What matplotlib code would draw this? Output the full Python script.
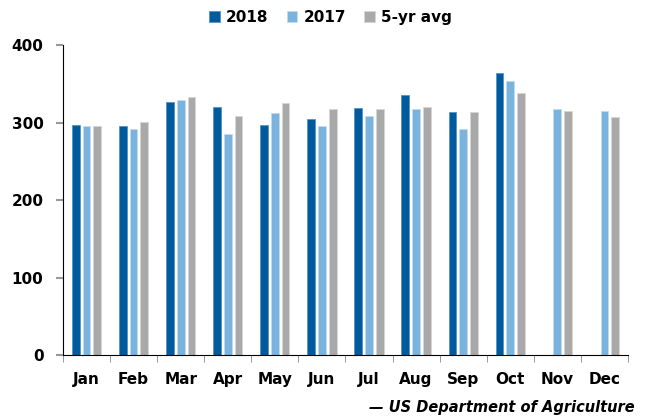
import numpy as np
import matplotlib.pyplot as plt

# Datos
meses = ['Jan', 'Feb', 'Mar', 'Apr', 'May', 'Jun', 'Jul', 'Aug', 'Sep', 'Oct', 'Nov', 'Dec']
v2018 = [297, 296, 326, 320, 297, 305, 319, 335, 314, 364, np.nan, np.nan]
v2017 = [296, 292, 329, 285, 312, 296, 308, 318, 291, 354, 317, 315]
prom5 = [296, 301, 333, 309, 325, 318, 317, 320, 314, 338, 315, 307]

plt.rcParams['font.family'] = ['DejaVu Sans']
plt.rcParams['font.weight'] = 'bold'

fig = plt.figure(figsize=(6.48, 4.19), dpi=100)
ax = fig.add_axes([0.0972, 0.1527, 0.8719, 0.7399])

x = np.arange(len(meses))
w = 0.165
paso = 0.228
series = [(v2018, '2018', '#005A9E', '#5a92c4'),
          (v2017, '2017', '#7AB3DE', '#c0dcf1'),
          (prom5, '5-yr avg', '#A9A9A9', '#d6d6d6')]
for i, (vals, nombre, color, borde) in enumerate(series):
    ax.bar(x + (i - 1) * paso, vals, width=w, color=color, edgecolor=borde,
           linewidth=0.6, label=nombre)

ax.set_xlim(-0.5, 11.5)
ax.set_ylim(0, 400)
ax.set_yticks([0, 100, 200, 300, 400])
ax.set_xticks(x)
ax.set_xticklabels(meses)
ax.set_xticks(np.arange(-0.5, 12, 1), minor=True)
ax.tick_params(axis='x', which='major', length=0, pad=12, labelsize=11)
ax.tick_params(axis='x', which='minor', length=5, color='#888888', direction='out')
ax.tick_params(axis='y', length=5, color='#999999', width=1.5, pad=9, labelsize=11)

for s in ['top', 'right']:
    ax.spines[s].set_visible(False)
ax.spines['left'].set_color('black')
ax.spines['bottom'].set_color('black')

leg = fig.legend(loc='upper center', bbox_to_anchor=(0.51, 1.01), ncol=3, frameon=False,
                 fontsize=11, handlelength=0.7, handleheight=0.7, handletextpad=0.4,
                 columnspacing=1.2)

fig.text(0.979, 0.028, '— US Department of Agriculture', ha='right', va='center',
         fontsize=10.5, style='italic', fontweight='bold')

fig.savefig('out.png', dpi=100)
